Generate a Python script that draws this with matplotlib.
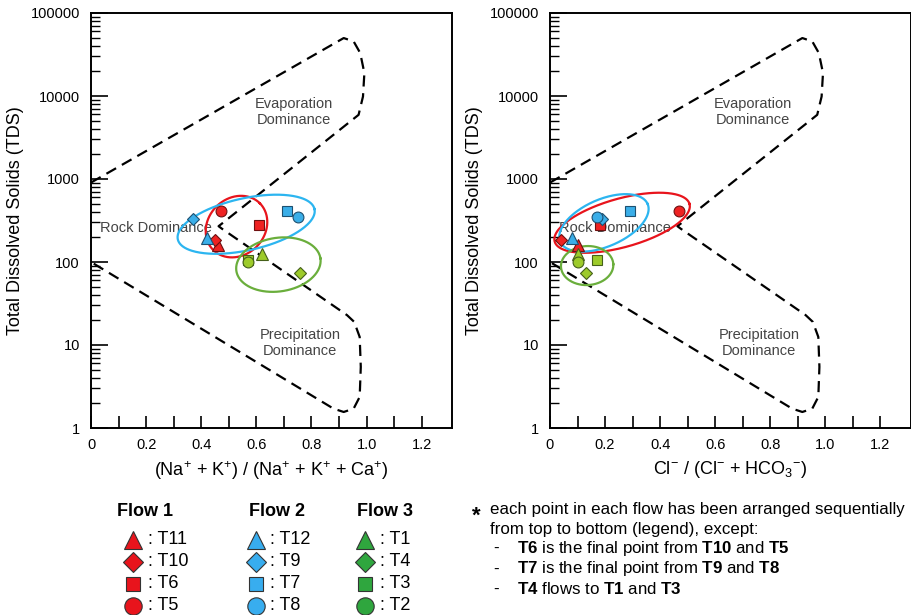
import matplotlib
matplotlib.use("Agg")
import matplotlib.pyplot as plt
import numpy as np
from matplotlib.ticker import FixedLocator, FixedFormatter, LogLocator, NullFormatter

plt.rcParams['font.family'] = ['Liberation Sans', 'DejaVu Sans']
plt.rcParams['mathtext.fontset'] = 'custom'
plt.rcParams['mathtext.rm'] = 'Liberation Sans'
plt.rcParams['mathtext.it'] = 'Liberation Sans:italic'
plt.rcParams['mathtext.bf'] = 'Liberation Sans:bold'

# samples of each flow, in legend order (triangle, diamond, square, circle)
flow1_names = ['T11', 'T10', 'T6', 'T5']
flow2_names = ['T12', 'T9', 'T7', 'T8']
flow3_names = ['T1', 'T4', 'T3', 'T2']
marker_list = ['^', 'D', 's', 'o']

# total dissolved solids
tds_f1 = [162, 185, 280, 415]
tds_f2 = [193, 328, 415, 350]
tds_f3 = [124, 74, 105, 101]

# (Na+ + K+) / (Na+ + K+ + Ca+)
cat_f1 = [0.46, 0.45, 0.61, 0.47]
cat_f2 = [0.42, 0.37, 0.71, 0.75]
cat_f3 = [0.62, 0.76, 0.57, 0.57]

# Cl- / (Cl- + HCO3-)
an_f1 = [0.10, 0.04, 0.18, 0.47]
an_f2 = [0.08, 0.19, 0.29, 0.17]
an_f3 = [0.10, 0.13, 0.17, 0.10]

# Gibbs boundary (dashed)
bound_x = [0, 0.917, 0.953, 0.977, 0.992, 0.987, 0.971, 0.475, 0.463, 0.475,
           0.929, 0.955, 0.975, 0.979, 0.975, 0.953, 0.917, 0.880, 0]
bound_y = [906, 49900, 45500, 32900, 18900, 9860, 5930, 290, 270, 252,
           22.9, 19, 12.5, 5.45, 2.37, 1.71, 1.56, 1.71, 100]

# flow envelopes: centre (data), semi axes (px), angle (deg)
ell_left = [(0.528, 267, 33, 28.4, 45), (0.563, 285, 70, 26, 12.5), (0.680, 93, 42.5, 26.8, 8.5)]
ell_right = [(0.262, 297, 70, 24.3, 15.6), (0.196, 296, 47.6, 23.6, 23.4), (0.135, 90.6, 26.2, 19.5, 3)]

fill_cols = ['#ee2222', '#3aaee8', '#9dcb2a']
edge_cols = ['#6e1010', '#1d5070', '#45601a']
ring_cols = ['#e8141c', '#2cb5f0', '#6aae3c']
legend_cols = ['#e8141c', '#38adef', '#2fa63e']
msizes = {'^': 8.2, 'D': 5.8, 's': 7.2, 'o': 7.8}


def draw_ellipse(ax, cx, cy, a, b, ang, color):
    x0, y0 = ax.transData.transform((cx, cy))
    t = np.linspace(0, 2 * np.pi, 300)
    th = np.deg2rad(ang)
    xs = x0 + a * np.cos(t) * np.cos(th) - b * np.sin(t) * np.sin(th)
    ys = y0 + a * np.cos(t) * np.sin(th) + b * np.sin(t) * np.cos(th)
    pts = ax.transData.inverted().transform(np.column_stack([xs, ys]))
    ax.plot(pts[:, 0], pts[:, 1], color=color, lw=1.6, zorder=4)


def setup(ax, xlabel):
    ax.set_yscale('log')
    ax.set_xlim(0, 1.31)
    ax.set_ylim(1, 100000)
    ax.xaxis.set_major_locator(FixedLocator(np.arange(0, 1.25, 0.1)))
    ax.xaxis.set_major_formatter(FixedFormatter(
        ['0', '', '0.2', '', '0.4', '', '0.6', '', '0.8', '', '1.0', '', '1.2']))
    ax.yaxis.set_major_locator(FixedLocator([1, 10, 100, 1000, 10000, 100000]))
    ax.yaxis.set_major_formatter(FixedFormatter(['1', '10', '100', '1000', '10000', '100000']))
    ax.yaxis.set_minor_locator(LogLocator(base=10, subs=np.arange(2, 10)))
    ax.yaxis.set_minor_formatter(NullFormatter())
    ax.tick_params(axis='x', direction='in', length=9, width=1.2, pad=7, labelsize=10.5)
    ax.tick_params(axis='y', which='major', direction='in', length=12, width=1.2, pad=8, labelsize=10.5)
    ax.tick_params(axis='y', which='minor', direction='in', length=6.5, width=1.0)
    for s in ax.spines.values():
        s.set_linewidth(1.4)
    ax.set_ylabel('Total Dissolved Solids (TDS)', fontsize=13)
    ax.yaxis.set_label_coords(-0.185, 0.5)
    ax.set_xlabel(xlabel, fontsize=13)
    ax.xaxis.set_label_coords(0.5, -0.075)
    ax.plot(bound_x, bound_y, color='black', lw=1.6, dashes=(5, 3), zorder=2)
    ax.text(0.736, 6440, 'Evaporation\nDominance', ha='center', va='center',
            fontsize=10.5, color='#444444', linespacing=1.15)
    ax.text(0.759, 10.6, 'Precipitation\nDominance', ha='center', va='center',
            fontsize=10.5, color='#444444', linespacing=1.15)
    ax.text(0.033, 255, 'Rock Dominance', ha='left', va='center',
            fontsize=10.5, color='#444444', zorder=1)


fig = plt.figure(figsize=(9.12, 6.15), dpi=100)
ax1 = fig.add_axes([91 / 912, 187 / 615, 361 / 912, 415 / 615])
ax2 = fig.add_axes([550 / 912, 187 / 615, 360.5 / 912, 415 / 615])

setup(ax1, r'(Na$^{+}$ + K$^{+}$) / (Na$^{+}$ + K$^{+}$ + Ca$^{+}$)')
setup(ax2, r'Cl$^{-}$ / (Cl$^{-}$ + HCO$_{3}$$^{-}$)')

tds_all = [tds_f1, tds_f2, tds_f3]
for ax, xs_all, ells in [(ax1, [cat_f1, cat_f2, cat_f3], ell_left),
                         (ax2, [an_f1, an_f2, an_f3], ell_right)]:
    for i in range(3):
        for x, y, m in zip(xs_all[i], tds_all[i], marker_list):
            ax.plot(x, y, marker=m, ms=msizes[m], color=fill_cols[i],
                    mec=edge_cols[i], mew=0.8, ls='none', zorder=5)
    for i, (cx, cy, a, b, ang) in enumerate(ells):
        draw_ellipse(ax, cx, cy, a, b, ang, ring_cols[i])

# legend and note drawn in pixel space
lg = fig.add_axes([0, 0, 1, 1], zorder=-1)
lg.set_xlim(0, 912)
lg.set_ylim(615, 0)
lg.axis('off')

heads = ['Flow 1', 'Flow 2', 'Flow 3']
head_x = [116.7, 249.3, 356.7]
mark_x = [133.3, 255.7, 365.0]
lab_x = [148.3, 270.0, 380.0]
row_y = [539.5, 561.5, 584.0, 605.5]
leg_ms = {'^': 13, 'D': 10.5, 's': 10.5, 'o': 12.5}
names = [flow1_names, flow2_names, flow3_names]
for i in range(3):
    lg.text(head_x[i], 511, heads[i], fontsize=13, fontweight='bold', ha='left', va='center')
    for j in range(4):
        m = marker_list[j]
        lg.plot(mark_x[i], row_y[j], marker=m, ms=leg_ms[m], color=legend_cols[i],
                mec='#333333', mew=0.8, ls='none')
        lg.text(lab_x[i], row_y[j], ': ' + names[i][j], fontsize=13, ha='left', va='center')

lg.text(476, 516, '*', fontsize=16, fontweight='bold', ha='center', va='center')
lg.text(490, 509.5, 'each point in each flow has been arranged sequentially',
        fontsize=12.2, ha='left', va='center')
lg.text(490, 529.5, 'from top to bottom (legend), except:', fontsize=12.2, ha='left', va='center')
notes = [r'$\mathbf{T6}$ is the final point from $\mathbf{T10}$ and $\mathbf{T5}$',
         r'$\mathbf{T7}$ is the final point from $\mathbf{T9}$ and $\mathbf{T8}$',
         r'$\mathbf{T4}$ flows to $\mathbf{T1}$ and $\mathbf{T3}$']
for k, s in enumerate(notes):
    yy = 548.5 + 20.5 * k
    lg.text(493, yy, '-', fontsize=12.2, ha='left', va='center')
    lg.text(516.7, yy, s, fontsize=12.2, ha='left', va='center')

fig.savefig('out.png', dpi=100)
